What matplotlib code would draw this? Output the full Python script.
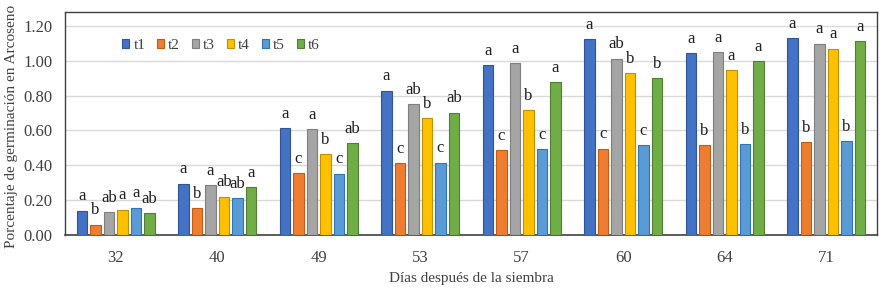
import matplotlib
matplotlib.use("Agg")
import matplotlib.pyplot as plt
import numpy as np

plt.rcParams['font.family'] = ['Liberation Serif', 'DejaVu Serif']

days = ["32", "40", "49", "53", "57", "60", "64", "71"]
series_names = ["t1", "t2", "t3", "t4", "t5", "t6"]
t1 = [0.14, 0.295, 0.615, 0.828, 0.973, 1.125, 1.044, 1.13]
t2 = [0.06, 0.153, 0.355, 0.414, 0.489, 0.496, 0.515, 0.534]
t3 = [0.13, 0.285, 0.609, 0.751, 0.987, 1.013, 1.05, 1.099]
t4 = [0.145, 0.22, 0.464, 0.67, 0.718, 0.929, 0.946, 1.069]
t5 = [0.157, 0.21, 0.352, 0.416, 0.492, 0.515, 0.521, 0.54]
t6 = [0.125, 0.274, 0.527, 0.703, 0.879, 0.9, 0.998, 1.111]
letters_t1 = ["a", "a", "a", "a", "a", "a", "a", "a"]
letters_t2 = ["b", "b", "c", "c", "c", "c", "b", "b"]
letters_t3 = ["ab", "a", "a", "ab", "a", "ab", "a", "a"]
letters_t4 = ["a", "ab", "b", "b", "b", "b", "a", "a"]
letters_t5 = ["a", "ab", "c", "c", "c", "c", "b", "b"]
letters_t6 = ["ab", "a", "ab", "ab", "a", "b", "a", "a"]
yticks = [0.0, 0.2, 0.4, 0.6, 0.8, 1.0, 1.2]

series = [t1, t2, t3, t4, t5, t6]
letters = [letters_t1, letters_t2, letters_t3, letters_t4, letters_t5, letters_t6]
colors = ["#4472C4", "#ED7D31", "#A5A5A5", "#FFC000", "#5B9BD5", "#70AD47"]
edges = ["#2F5597", "#C55A11", "#7F7F7F", "#BF9000", "#2E75B6", "#507E32"]

fig = plt.figure(figsize=(8.84, 2.90), dpi=100)
ax = fig.add_axes([65/884, 1-235/290, (877-65)/884, (235-12)/290])

x = np.arange(len(days))
pitch = 0.133
width = 0.105
for i, (vals, c, ec, labs) in enumerate(zip(series, colors, edges, letters)):
    pos = x + (i - 2.5) * pitch
    ax.bar(pos, vals, width=width, color=c, edgecolor=ec, linewidth=0.8,
           label=series_names[i], zorder=3)
    for p, v, l in zip(pos, vals, labs):
        ax.text(p, v + 0.036, l, ha='center', va='bottom', fontsize=12,
                color='#202020', zorder=4)

ax.set_xlim(-0.5, len(days) - 0.5)
ax.set_ylim(0, 1.28)
ax.set_yticks(yticks)
ax.set_yticklabels([f"{v:.2f}" for v in yticks])
ax.set_xticks(x)
ax.set_xticklabels(days)
ax.tick_params(axis='both', length=0, labelsize=12, colors='#404040')
ax.tick_params(axis='x', pad=11)
ax.tick_params(axis='y', pad=9)
ax.yaxis.grid(True, color='#D9D9D9', linewidth=1, zorder=0)
for s in ['top', 'right', 'left']:
    ax.spines[s].set_color('#404040')
    ax.spines[s].set_linewidth(1)
ax.spines['bottom'].set_color('#404040')
ax.spines['bottom'].set_linewidth(1.2)

ax.set_ylabel("Porcentaje de germinación en Arcoseno", fontsize=11, color='#404040')
ax.yaxis.set_label_coords(-0.058, 0.487)
ax.set_xlabel("Días después de la siembra", fontsize=11, color='#404040', labelpad=4)

leg = ax.legend(ncol=6, loc='center left', bbox_to_anchor=(0.070, 0.849), frameon=False,
                fontsize=11, handlelength=0.5, handleheight=0.5, handletextpad=0.25,
                columnspacing=0.76, borderaxespad=0, borderpad=0)
for t in leg.get_texts():
    t.set_color('#404040')

fig.savefig("out.png", dpi=100)
